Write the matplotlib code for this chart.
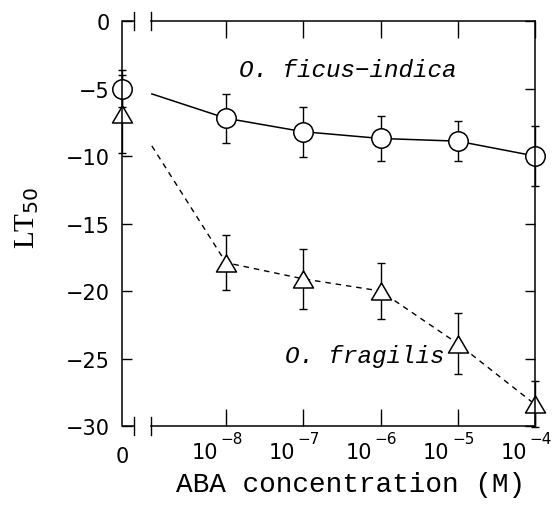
import numpy as np
import matplotlib
matplotlib.use("Agg")
import matplotlib.pyplot as plt
from matplotlib.transforms import blended_transform_factory

# ---- data ----
conc = [0, 1e-8, 1e-7, 1e-6, 1e-5, 1e-4]
ficus_lt50 = [-5.0, -7.2, -8.2, -8.7, -8.9, -10.0]
ficus_err = [1.4, 1.8, 1.85, 1.65, 1.5, 2.2]
fragilis_lt50 = [-6.9, -17.9, -19.1, -20.0, -23.9, -28.4]
fragilis_err = [2.9, 2.05, 2.2, 2.05, 2.25, 1.7]
# fitted-curve start (log10 concentration) and values
curve_start_log = -8.96
ficus_curve_start = -5.4
fragilis_curve_start = -9.25

ytick_vals = [0, -5, -10, -15, -20, -25, -30]
xtick_exps = [-8, -7, -6, -5, -4]

ZERO_POS = -9.346
BREAK_L, BREAK_R = -9.185, -8.97


def xpos(c):
    return ZERO_POS if c == 0 else np.log10(c)


fig = plt.figure(figsize=(5.6, 5.06), dpi=100)
ax = fig.add_axes([0.2179, 0.1561, 0.7375, 0.8004])
ax.set_xlim(ZERO_POS, -4)
ax.set_ylim(-30, 0)

xs = [xpos(c) for c in conc]

# curves
ax.plot([curve_start_log] + xs[1:], [ficus_curve_start] + ficus_lt50[1:],
        color='black', lw=1.1, clip_on=False, zorder=1)
ax.plot([curve_start_log] + xs[1:], [fragilis_curve_start] + fragilis_lt50[1:],
        color='black', lw=1.0, ls=(0, (4, 3.5)), clip_on=False, zorder=1)

# error bars
for y, e in [(ficus_lt50, ficus_err), (fragilis_lt50, fragilis_err)]:
    eb = ax.errorbar(xs, y, yerr=e, fmt='none', ecolor='black', elinewidth=1.0,
                     capsize=3, capthick=1.0, zorder=1.5)
    for art in eb.get_children():
        art.set_clip_on(False)

tri = [(0, 0.85), (-1, -0.85), (1, -0.85), (0, 0.85)]
ax.plot(xs, ficus_lt50, ls='none', marker='o', ms=14, mfc='white', mec='black',
        mew=1.1, clip_on=False, zorder=2)
ax.plot(xs, fragilis_lt50, ls='none', marker=tri, ms=14.4, mfc='white', mec='black',
        mew=1.1, clip_on=False, zorder=2)

# spines with axis break
for s in ['top', 'bottom']:
    ax.spines[s].set_bounds(BREAK_R, -4)
for s in ax.spines.values():
    s.set_linewidth(1.1)
trans = blended_transform_factory(ax.transData, ax.transAxes)
for yy in (0, 1):
    ax.plot([ZERO_POS, BREAK_L], [yy, yy], transform=trans, color='black',
            lw=1.1, clip_on=False, solid_capstyle='butt')
    for bx in (BREAK_L, BREAK_R):
        ax.plot([bx, bx], [yy - 0.022, yy + 0.022], transform=trans,
                color='black', lw=1.0, clip_on=False)

# ticks
ax.set_yticks(ytick_vals)
ax.set_yticklabels(['0' if v == 0 else '\u2212%d' % abs(v) for v in ytick_vals])
ax.set_xticks(xtick_exps)
ax.set_xticklabels([])
ax.tick_params(axis='y', direction='in', length=7, width=1.0, right=True,
               labelsize=15, pad=9)
ax.tick_params(axis='x', direction='in', length=12, width=1.0, top=True)

# x tick labels: "0" and 10^n drawn as base + exponent
ax.annotate('0', xy=(ZERO_POS, 0), xycoords=trans, xytext=(0, -20),
            textcoords='offset pixels', ha='center', va='top', fontsize=15,
            annotation_clip=False)
for e in xtick_exps:
    ax.annotate('10', xy=(e, 0), xycoords=trans, xytext=(-21.5, -16),
                textcoords='offset pixels', ha='center', va='top', fontsize=15,
                annotation_clip=False)
    ax.annotate('\u2212%d' % abs(e), xy=(e, 0), xycoords=trans, xytext=(5.5, -5),
                textcoords='offset pixels', ha='center', va='top', fontsize=11,
                annotation_clip=False)

# annotations
ax.text(-6.42, -4.07, 'O. ficus\u2212indica', fontfamily='Liberation Mono',
        style='italic', fontsize=17.5, ha='center', va='baseline')
ax.text(-6.21, -25.26, 'O. fragilis', fontfamily='Liberation Mono',
        style='italic', fontsize=17.5, ha='center', va='baseline')

fig.text(351 / 560, 0.041, 'ABA concentration (M)', fontfamily='Liberation Mono',
         fontsize=20, ha='center', va='center')
fig.text(27 / 560, 1 - 218 / 506, r'LT$_{50}$', fontfamily='Liberation Serif',
         fontsize=21, rotation=90, ha='center', va='center')

fig.savefig('out.png', dpi=100)
